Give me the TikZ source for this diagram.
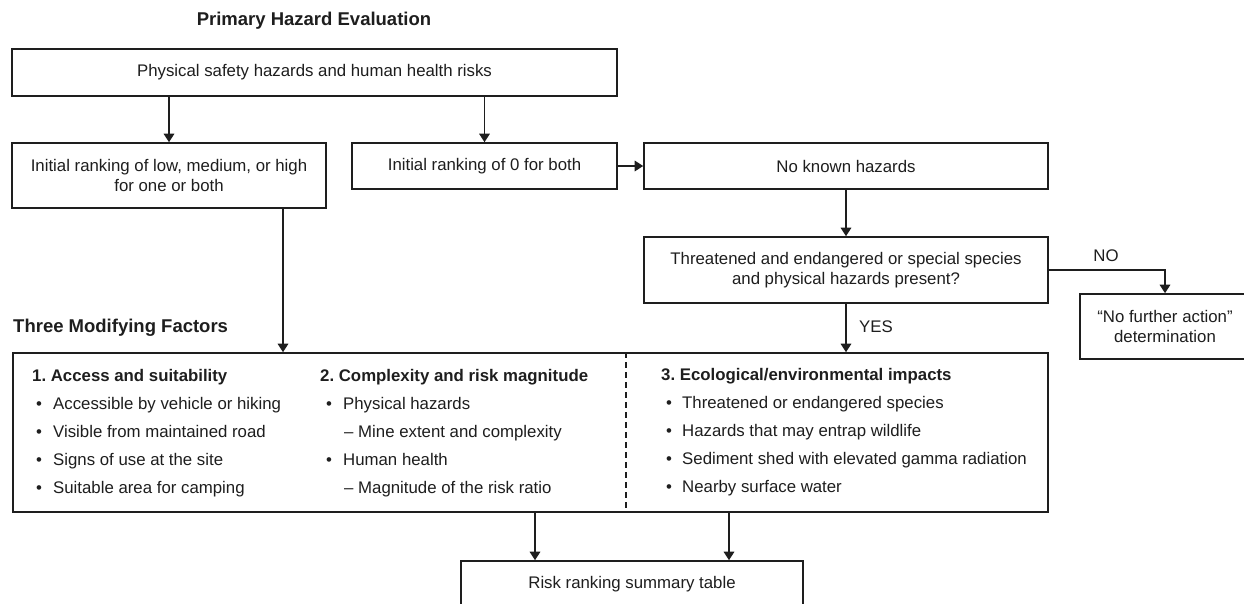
\documentclass[tikz,border=0pt]{standalone}
\usepackage{fontspec}
\setmainfont{Liberation Sans}
\usetikzlibrary{arrows.meta,calc}
\newcommand\bodyfs{\fontsize{16.8}{20.5}\selectfont}
\newcommand\headfs{\fontsize{18.5}{22}\selectfont\bfseries}
\newcommand\colfs{\fontsize{16.8}{20.5}\selectfont\bfseries}
\newcommand\bl{\makebox[17pt][l]{•}}
\definecolor{ink}{HTML}{1E1E1E}
\begin{document}
\begin{tikzpicture}[x=1pt,y=-1pt,
  box/.style={draw=ink, line width=1.6pt, inner sep=0pt, align=center, font=\bodyfs, text=ink},
  arr/.style={draw=ink, line width=1.6pt, -{Triangle[width=10.5pt,length=8.5pt]}},
  lbl/.style={font=\bodyfs, text=ink, inner sep=0pt},
  item/.style={font=\bodyfs, text=ink, inner sep=0pt, anchor=base west},
  colhead/.style={font=\colfs, text=ink, inner sep=0pt, anchor=base west},
  sechead/.style={font=\headfs, text=ink, inner sep=0pt}
]
\useasboundingbox (0,0) rectangle (1244,603);
\fill[white] (0,0) rectangle (1244,603);

% headings
\node[sechead] (title) at (314,21) {Primary Hazard Evaluation};
\node[sechead, anchor=west] (three) at (13,328) {Three Modifying Factors};

% boxes
\node[box, minimum width=605pt, minimum height=47pt] (b1) at (314.5,72.5) {Physical safety hazards and human health risks};
\node[box, minimum width=314pt, minimum height=65pt] (b2) at (169,175.5) {Initial ranking of low, medium, or high\\for one or both};
\node[box, minimum width=265pt, minimum height=46pt] (b3) at (484.5,166) {Initial ranking of 0 for both};
\node[box, minimum width=404pt, minimum height=46pt] (b4) at (846,166) {No known hazards};
\node[box, minimum width=404pt, minimum height=66pt] (b5) at (846,270) {Threatened and endangered or special species\\and physical hazards present?};
\node[box, minimum width=170pt, minimum height=65pt] (b6) at (1165,326.5) {“No further action”\\determination};
\node[box, minimum width=1035pt, minimum height=159pt] (big) at (530.5,432.5) {};
\node[box, minimum width=342pt, minimum height=46pt] (bot) at (632,584) {Risk ranking summary table};

% dashed divider
\coordinate (xd) at (626,0);
\draw[ink, line width=1.2pt, dash pattern=on 6pt off 4pt] (big.north -| xd) -- (big.south -| xd);

% column 1
\node[colhead] (c1h) at (32,381) {1.\ Access and suitability};
\node[item] (c1a) at (36,409) {\bl Accessible by vehicle or hiking};
\node[item] (c1b) at (36,437) {\bl Visible from maintained road};
\node[item] (c1c) at (36,465) {\bl Signs of use at the site};
\node[item] (c1d) at (36,493) {\bl Suitable area for camping};

% column 2
\node[colhead] (c2h) at (320,381) {2.\ Complexity and risk magnitude};
\node[item] (c2a) at (326,409) {\bl Physical hazards};
\node[item] (c2b) at (344,437) {– Mine extent and complexity};
\node[item] (c2c) at (326,465) {\bl Human health};
\node[item] (c2d) at (344,493) {– Magnitude of the risk ratio};

% column 3
\node[colhead] (c3h) at (661,380) {3.\ Ecological/environmental impacts};
\node[item] (c3a) at (666,408) {\makebox[16pt][l]{•}Threatened or endangered species};
\node[item] (c3b) at (666,436) {\makebox[16pt][l]{•}Hazards that may entrap wildlife};
\node[item] (c3c) at (666,464) {\makebox[16pt][l]{•}Sediment shed with elevated gamma radiation};
\node[item] (c3d) at (666,492) {\makebox[16pt][l]{•}Nearby surface water};

% labels
\node[lbl] (yes) at (876,327) {YES};
\node[lbl] (no) at (1106,256) {NO};

% connectors
\draw[arr] (b1.south -| b2.north) -- (b2.north);
\draw[arr] (b1.south -| b3.north) -- (b3.north);
\draw[arr] (b3.east) -- (b4.west);
\draw[arr] (b4.south) -- (b5.north);
\coordinate (xb) at (283,0);
\draw[arr] (b2.south -| xb) -- (big.north -| xb);
\draw[arr] (b5.south) -- (big.north -| b5.south);
\draw[arr] (b5.east) -| (b6.north);
\coordinate (xa1) at (535,0);
\coordinate (xa2) at (729,0);
\draw[arr] (big.south -| xa1) -- (bot.north -| xa1);
\draw[arr] (big.south -| xa2) -- (bot.north -| xa2);
\end{tikzpicture}
\end{document}
